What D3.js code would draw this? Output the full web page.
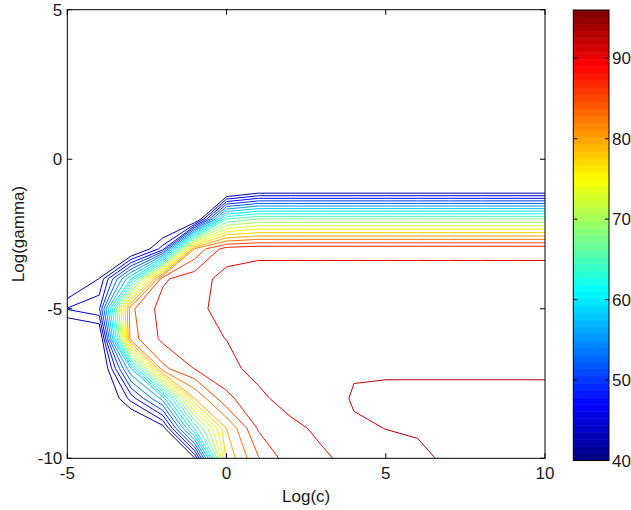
<!DOCTYPE html>
<html><head><meta charset="utf-8">
<script src="https://cdn.jsdelivr.net/npm/d3@7"></script>
<style>body{margin:0;background:#fff}svg{display:block}text{font-family:"Liberation Sans",Arial,sans-serif;fill:#1a1a1a}</style>
</head><body>
<svg id="chart" width="631" height="510"></svg>
<script>
// grid axes (log2 values)
const logC = [-5,-4,-3,-2,-1,0,1,2,3,4,5,6,7,8,9,10];
const logGamma = [5,4,3,2,1,0,-1,-2,-3,-4,-5,-6,-7,-8,-9,-10];
// cross-validation accuracy (%), one row per logGamma, one column per logC
const acc_g5   = [38,38,38,38,38,38,38.6,38.6,38.6,38.6,38.6,38.6,38.6,38.6,38.6,38.6];
const acc_g4   = [38,38,38,38,38,38,38.6,38.6,38.6,38.6,38.6,38.6,38.6,38.6,38.6,38.6];
const acc_g3   = [38,38,38,38,38,38,38.6,38.6,38.6,38.6,38.6,38.6,38.6,38.6,38.6,38.6];
const acc_g2   = [38,38,38,38,38,38,38.6,38.6,38.6,38.6,38.6,38.6,38.6,38.6,38.6,38.6];
const acc_g1   = [38,38,38,38,38,38,38.6,38.6,38.6,38.6,38.6,38.6,38.6,38.6,38.6,38.6];
const acc_g0   = [38,38,38,38,38,38,38.6,38.6,38.6,38.6,38.6,38.6,38.6,38.6,38.6,38.6];
const acc_gm1  = [37,37,37,37,37,35,38.6,38.6,38.6,38.6,38.6,38.6,38.6,38.6,38.6,38.6];
const acc_gm2  = [36,36,36,36,37,65,67.6,67.6,67.6,67.6,67.6,67.6,67.6,67.6,67.6,67.6];
const acc_gm3  = [37,37,37,46.3,83,88.8,89.5,89.5,89.5,89.5,89.5,89.5,89.5,89.5,89.5,89.5];
const acc_gm4  = [37.3,42.6,60,87.1,89.0,90.8,90.8,90.8,90.8,90.8,90.8,90.8,90.8,90.8,90.8,90.8];
const acc_gm5  = [45.2,47,84.5,88.55,89.5,90.7,91.2,91.2,91.2,91.2,91.2,91.2,91.2,91.2,91.2,91.2];
const acc_gm6  = [36.2,38,84,88.1,89.2,90.05,91.5,91.6,91.6,91.6,91.6,91.6,91.6,91.6,91.6,91.6];
const acc_gm7  = [36,37,57.4,84.35,87.6,88.85,91.3,91.8,92.0,92.2,92.2,92.2,92.2,92.2,92.2,92.2];
const acc_gm8  = [36,36.5,46,56,80,87.0,89.0,91.8,90.9,92.8,93.0,93.0,93.0,93.0,93.0,93.0];
const acc_gm9  = [36,36,36,41,63,80,87.8,88.8,91.0,92.1,92.53,92.75,93.0,93.2,93.2,93.2];
const acc_gm10 = [36,36,37,38,42.3,78.2,84.8,89.0,89.3,91.4,91.6,92.0,92.9,93.3,93.5,93.6];
const accuracy = [acc_g5,acc_g4,acc_g3,acc_g2,acc_g1,acc_g0,acc_gm1,acc_gm2,acc_gm3,acc_gm4,acc_gm5,acc_gm6,acc_gm7,acc_gm8,acc_gm9,acc_gm10];

const levels = [42.5,45,47.5,50,52.5,55,57.5,60,62.5,65,67.5,70,72.5,75,77.5,80,82.5,85,87.5,90,92.5];
const colorRange = [40, 96];
const colorTicks = [40,50,60,70,80,90];
const xTicks = [-5,0,5,10];
const yTicks = [-10,-5,0,5];

const svg = d3.select("#chart");
const P = {left:67.3, right:545, top:9.7, bottom:458.3};
const x = d3.scaleLinear().domain([-5,10]).range([P.left,P.right]);
const y = d3.scaleLinear().domain([-10,5]).range([P.bottom,P.top]);

function jet(t){
  const c = v => Math.max(0, Math.min(1, v));
  return d3.rgb(255*c(1.5-Math.abs(4*t-3)), 255*c(1.5-Math.abs(4*t-2)), 255*c(1.5-Math.abs(4*t-1)));
}
const cnorm = d3.scaleLinear().domain(colorRange).range([0,1]);
const jet64 = v => { const i = Math.min(63, Math.max(0, Math.floor(cnorm(v)*64))); return jet((i+0.5)/64); };

// contours
const nx = logC.length, ny = logGamma.length;
const contours = d3.contours().size([nx, ny]).thresholds(levels)(accuracy.flat());
const gx = d3.scaleLinear().domain([0.5, nx-0.5]).range([logC[0], logC[nx-1]]);
const gy = d3.scaleLinear().domain([0.5, ny-0.5]).range([logGamma[0], logGamma[ny-1]]);
const proj = d3.geoTransform({point(px,py){ this.stream.point(x(gx(px)), y(gy(py))); }});
const path = d3.geoPath(proj);

svg.append("defs").append("clipPath").attr("id","plotclip").append("rect")
  .attr("x",P.left).attr("y",P.top).attr("width",P.right-P.left).attr("height",P.bottom-P.top);

svg.append("g").attr("clip-path","url(#plotclip)")
  .selectAll("path").data(contours).join("path")
  .attr("d", path).attr("fill","none")
  .attr("stroke", d => jet64(d.value)).attr("stroke-width",1);

// axes box
const ax = svg.append("g");
ax.append("rect").attr("x",P.left).attr("y",P.top).attr("width",P.right-P.left).attr("height",P.bottom-P.top)
  .attr("fill","none").attr("stroke","#000").attr("stroke-width",1);
const tl = 5, fs = 17;
xTicks.forEach(v => {
  ax.append("line").attr("x1",x(v)).attr("x2",x(v)).attr("y1",P.bottom).attr("y2",P.bottom-tl).attr("stroke","#000");
  ax.append("line").attr("x1",x(v)).attr("x2",x(v)).attr("y1",P.top).attr("y2",P.top+tl).attr("stroke","#000");
  ax.append("text").attr("x",x(v)).attr("y",P.bottom+21).attr("text-anchor","middle").attr("font-size",fs).text(v);
});
yTicks.forEach(v => {
  ax.append("line").attr("x1",P.left).attr("x2",P.left+tl).attr("y1",y(v)).attr("y2",y(v)).attr("stroke","#000");
  ax.append("line").attr("x1",P.right).attr("x2",P.right-tl).attr("y1",y(v)).attr("y2",y(v)).attr("stroke","#000");
  ax.append("text").attr("x",P.left-5).attr("y",y(v)+6).attr("text-anchor","end").attr("font-size",fs).text(v);
});
ax.append("text").attr("x",(P.left+P.right)/2).attr("y",502).attr("text-anchor","middle").attr("font-size",fs).text("Log(c)");
ax.append("text").attr("transform",`translate(24,${(P.top+P.bottom)/2}) rotate(-90)`).attr("text-anchor","middle").attr("font-size",fs).text("Log(gamma)");

// colorbar
const CB = {left:573.3, right:609, top:10, bottom:460.5};
const cy = d3.scaleLinear().domain(colorRange).range([CB.bottom, CB.top]);
const stripes = d3.range(64);
const cg = svg.append("g");
cg.selectAll("rect.s").data(stripes).join("rect").attr("class","s")
  .attr("x",CB.left).attr("width",CB.right-CB.left)
  .attr("y", i => cy(colorRange[0] + (i+1)*(colorRange[1]-colorRange[0])/64))
  .attr("height", (CB.bottom-CB.top)/64 + 0.5)
  .attr("fill", i => jet((i+0.5)/64));
cg.append("rect").attr("x",CB.left).attr("y",CB.top).attr("width",CB.right-CB.left).attr("height",CB.bottom-CB.top)
  .attr("fill","none").attr("stroke","#000");
colorTicks.forEach(v => {
  cg.append("line").attr("x1",CB.left).attr("x2",CB.left+4).attr("y1",cy(v)).attr("y2",cy(v)).attr("stroke","#000");
  cg.append("line").attr("x1",CB.right).attr("x2",CB.right-4).attr("y1",cy(v)).attr("y2",cy(v)).attr("stroke","#000");
  cg.append("text").attr("x",CB.right+3).attr("y",cy(v)+6).attr("font-size",fs).text(v);
});
</script>
</body></html>
